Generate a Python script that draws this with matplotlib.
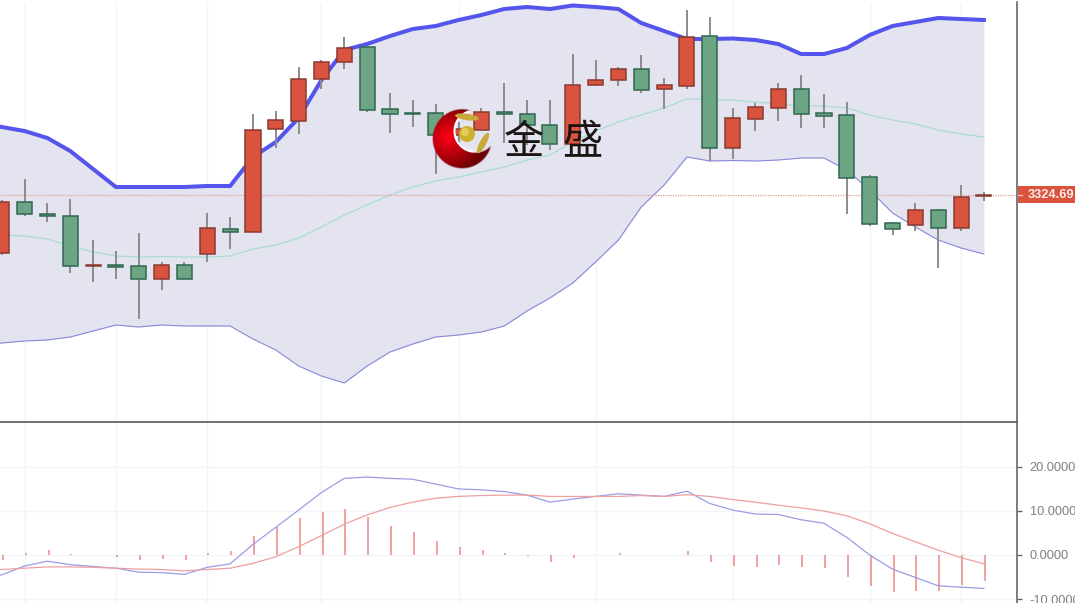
import numpy as np
import matplotlib
matplotlib.use('Agg')
import matplotlib.pyplot as plt
from matplotlib.patches import Arc, Circle, Ellipse, Rectangle

plt.rcParams['font.family'] = ['Liberation Sans', 'DejaVu Sans']

# K线数据
opens = [3267, 3318, 3306, 3304, 3254, 3255, 3254, 3241, 3255, 3266, 3291, 3288, 3391, 3399, 3441, 3458, 3473, 3411, 3407, 3407, 3385, 3390,
         3408, 3406, 3395, 3376, 3435, 3440, 3451, 3431, 3434, 3484, 3372, 3401, 3412, 3431, 3407, 3405, 3343, 3297, 3295, 3310, 3292, 3324]
closes = [3318, 3306, 3304, 3254, 3255, 3253, 3241, 3255, 3241, 3292, 3288, 3390, 3400, 3441, 3458, 3472, 3410, 3406, 3406, 3385, 3391, 3408,
          3406, 3395, 3376, 3435, 3440, 3451, 3430, 3435, 3483, 3372, 3402, 3413, 3431, 3406, 3404, 3342, 3296, 3291, 3310, 3292, 3323, 3324.69]
highs = [3320, 3341, 3317, 3321, 3280, 3269, 3287, 3258, 3258, 3307, 3303, 3406, 3409, 3453, 3460, 3483, 3473, 3427, 3420, 3416, 3398, 3412,
         3437, 3420, 3420, 3466, 3460, 3453, 3465, 3442, 3510, 3503, 3412, 3417, 3437, 3445, 3426, 3418, 3345, 3298, 3317, 3311, 3335, 3328]
lows = [3265, 3304, 3298, 3247, 3238, 3241, 3201, 3230, 3241, 3258, 3271, 3288, 3372, 3386, 3431, 3451, 3408, 3387, 3393, 3346, 3355, 3390,
        3377, 3375, 3370, 3376, 3434, 3434, 3427, 3411, 3431, 3359, 3361, 3389, 3399, 3392, 3392, 3306, 3294, 3285, 3289, 3252, 3289, 3319]
# 布林带，第一个点在画面左边之外
upper = [3397, 3393, 3389, 3382, 3369, 3351, 3333, 3333, 3333, 3333, 3334, 3334, 3363, 3378, 3402, 3440, 3470, 3476, 3484, 3491, 3494, 3500, 3505,
         3511, 3513, 3511, 3514.5, 3513, 3511, 3497, 3489, 3481, 3481, 3481.5, 3480, 3476, 3466, 3466, 3472, 3485, 3494, 3498, 3502, 3501, 3500]
middle = [3285, 3285, 3284, 3281, 3274, 3268, 3264, 3263, 3263.5, 3263, 3263, 3264, 3271, 3275, 3282, 3293, 3305, 3315, 3325, 3333, 3339, 3343, 3348,
          3353, 3360, 3365, 3378, 3389, 3398, 3405, 3412, 3421, 3420.5, 3420, 3418, 3416, 3414, 3414, 3412, 3405, 3400, 3396, 3390, 3386, 3383]
lower = [3176, 3177, 3179, 3180, 3183, 3189, 3195, 3193, 3195, 3194, 3194, 3194, 3181, 3170, 3154, 3144, 3137, 3154, 3168, 3176, 3183, 3185, 3188,
         3194, 3209, 3222, 3237, 3258, 3280, 3313, 3335, 3363, 3359, 3359.5, 3359, 3360, 3362, 3362, 3350, 3330, 3307, 3293, 3280, 3272, 3266]
# MACD
dif = [-5.4, -4.5, -2.5, -1.4, -2.2, -2.6, -3.0, -3.9, -4.0, -4.4, -2.8, -2.0, 2.4, 6.3, 10.2, 14.2, 17.4, 17.7, 17.4, 17.2, 16.1, 15.0, 14.8,
       14.4, 13.6, 12.0, 12.7, 13.3, 13.9, 13.6, 13.3, 14.5, 11.7, 10.2, 9.3, 9.2, 8.0, 7.2, 4.0, 0.0, -3.2, -5.1, -7.0, -7.3, -7.6]
dea = [-3.4, -3.3, -3.0, -2.7, -2.7, -2.8, -3.0, -3.2, -3.3, -3.6, -3.3, -3.0, -1.9, -0.4, 1.9, 4.4, 7.0, 9.1, 10.8, 12.0, 12.9, 13.3, 13.5,
       13.6, 13.6, 13.3, 13.3, 13.3, 13.3, 13.5, 13.3, 13.7, 13.3, 12.6, 12.0, 11.3, 10.7, 10.0, 8.9, 7.1, 4.9, 3.0, 1.1, -0.6, -2.0]
hist = [-1.1, 0.4, 1.1, 0.3, 0.0, -0.4, -1.1, -0.8, -1.1, 0.4, 0.9, 4.3, 6.4, 8.3, 9.7, 10.4, 8.6, 6.6, 5.2, 3.2, 1.8, 1.2,
        0.5, -0.2, -1.5, -0.7, 0.0, 0.5, 0.1, 0.0, 1.0, -1.6, -2.5, -2.8, -2.3, -2.8, -3.0, -4.9, -7.1, -8.4, -8.2, -8.1, -6.8, -5.8]
grid_idx = [1, 5, 9, 14, 20, 26, 32, 38, 42]
macd_ticks = [20, 10, 0, -10]
macd_labels = ['20.0000', '10.0000', '0.0000', '-10.0000']
last_price = 3324.69

W, H = 1075, 603
xs = np.arange(len(opens))
xs_line = np.arange(-1, len(opens))
xlim = (-0.075, 44.45)
RED, RED_E = '#d9533f', '#8a3a30'
GREEN, GREEN_E = '#6ba583', '#2f6650'
GRID = '#f1f4f8'

fig = plt.figure(figsize=(W / 100, H / 100), dpi=100)
ax = fig.add_axes([0, 1 - 422 / H, 1017 / W, 420 / H])
ax2 = fig.add_axes([0, 0, 1017 / W, 181 / H])

# 主图
ax.set_xlim(xlim)
ax.set_ylim(3098, 3518)
ax.vlines(grid_idx, 3098, 3518, color=GRID, lw=1, zorder=0)
ax.fill_between(xs_line, lower, upper, color='#e4e4f0', lw=0, zorder=1)
ax.plot(xs_line, upper, color='#5555ee', lw=2.9, zorder=2, solid_joinstyle='round')
ax.plot(xs_line, middle, color='#a9dccf', lw=0.9, zorder=2)
ax.plot(xs_line, lower, color='#8888dd', lw=0.8, zorder=2)
ax.axhline(last_price, color='#e79c92', lw=0.9, ls=(0, (1, 1)), zorder=2.5)

ax.vlines(xs, lows, highs, color='#8c8c8c', lw=1.4, zorder=3)
for i in xs:
    up = closes[i] >= opens[i]
    bottom = min(opens[i], closes[i])
    height = max(abs(closes[i] - opens[i]), 0.6)
    ax.bar(i, height, bottom=bottom, width=0.66, color=RED if up else GREEN,
           edgecolor=RED_E if up else GREEN_E, lw=1.1, zorder=4)

ax.set_xticks([])
ax.set_yticks([])
for s in ['top', 'left', 'bottom']:
    ax.spines[s].set_visible(False)
ax.spines['right'].set_color('#666666')
ax.spines['right'].set_linewidth(1.2)

# MACD副图
ax2.set_xlim(xlim)
ax2.set_ylim(-10.9, 30.2)
ax2.vlines(grid_idx, -10.9, 30.2, color=GRID, lw=1, zorder=0)
ax2.hlines(macd_ticks, xlim[0], xlim[1], color=GRID, lw=1, zorder=0)
ax2.vlines(xs + 0.05, 0, hist, color='#ee8f8f', lw=1.2, zorder=2)
ax2.plot(xs_line, dif, color='#9c9ce6', lw=0.9, zorder=3)
ax2.plot(xs_line, dea, color='#ee9f9f', lw=0.9, zorder=3)
ax2.set_xticks([])
ax2.yaxis.tick_right()
ax2.set_yticks(macd_ticks)
ax2.set_yticklabels(macd_labels, color='#7f7f7f', fontsize=9.2)
ax2.tick_params(axis='y', color='#666666', length=3.6, width=1, pad=5.5)
for s in ['left', 'bottom']:
    ax2.spines[s].set_visible(False)
ax2.spines['top'].set_color('#666666')
ax2.spines['top'].set_linewidth(1.3)
ax2.spines['right'].set_color('#666666')
ax2.spines['right'].set_linewidth(1.2)

# 上面盖一层像素坐标，放价格标签和logo
top = fig.add_axes([0, 0, 1, 1], facecolor='none')
top.add_patch(Rectangle((1018, 186), 57, 17, color='#d9533f', lw=0))
top.plot([1018, 1022], [195, 195], color='#f3c4bc', lw=1)
top.text(1028, 195, '%.2f' % last_price, color='#fbeee9', fontsize=9.2, fontweight='bold', va='center', ha='left')

# logo：月牙 + 金球
yy, xx = np.mgrid[105:172:0.5, 428:496:0.5]
r_out = np.hypot(xx - 462, yy - 138.5)
r_in = np.hypot(xx - 475, yy - 131)
shade = np.clip(1 - np.hypot(xx - 448, yy - 137) / 36, 0, 1)
logo = np.zeros(xx.shape + (4,))
logo[..., 0] = 0.42 + 0.58 * shade
logo[..., 1] = 0.0
logo[..., 2] = 0.02 + 0.06 * shade
logo[..., 3] = np.clip(30 - r_out, 0, 1) * np.clip(r_in - 21, 0, 1)
top.imshow(logo, extent=(428, 496, 172, 105), zorder=5, interpolation='bilinear', aspect='auto')
top.set_xlim(0, W)
top.set_ylim(H, 0)
top.axis('off')
top.add_patch(Arc((475, 131), 41, 41, theta1=95, theta2=255, color='white', lw=1.4, zorder=5.5))
top.add_patch(Circle((467, 134), 8, color='#cfb02e', lw=0, zorder=6))
top.add_patch(Circle((465, 132), 4, color='#e4cc5c', lw=0, zorder=6))
top.add_patch(Ellipse((467, 117), 24, 6.5, angle=8, color='#c9a93a', lw=0, zorder=6))
top.add_patch(Ellipse((483, 143), 23, 6.5, angle=-62, color='#c9a93a', lw=0, zorder=6))
top.text(524, 143, '金', family=['Noto Sans CJK SC', 'DejaVu Sans'], fontsize=29, color='#1c1412', ha='center', va='center', zorder=6)
top.text(582, 143, '盛', family=['Noto Sans CJK SC', 'DejaVu Sans'], fontsize=29, color='#1c1412', ha='center', va='center', zorder=6)

fig.savefig('out.png', dpi=100)
